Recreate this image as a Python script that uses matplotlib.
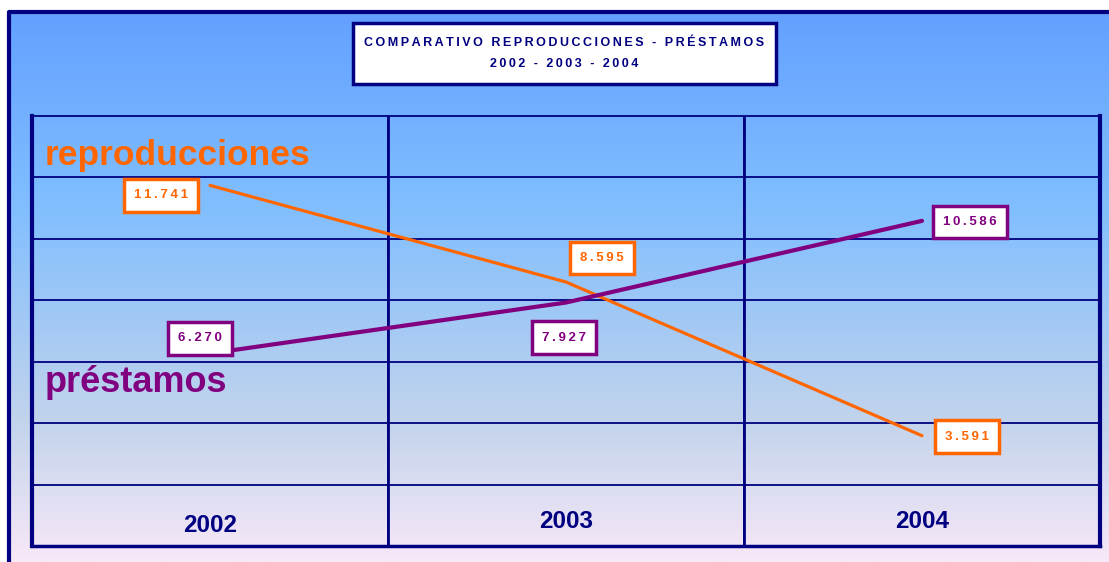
#!/usr/bin/env python3
# Comparativo reproducciones / préstamos 2002-2004
import numpy as np
import matplotlib
matplotlib.use("Agg")
import matplotlib.pyplot as plt
from matplotlib.patches import Rectangle

years = ["2002", "2003", "2004"]
reproducciones = [11741, 8595, 3591]
prestamos = [6270, 7927, 10586]
rep_labels = ["11.741", "8.595", "3.591"]
pre_labels = ["6.270", "7.927", "10.586"]

NAVY = "#000080"
ORANGE = "#FF6600"
PURPLE = "#800080"
FONT = ["Liberation Sans", "DejaVu Sans"]

W, H = 1109, 562
fig = plt.figure(figsize=(W / 100, H / 100), dpi=100)
fig.patch.set_facecolor("white")


def spaced(s):
    return "\u2009".join(s)


# background gradient panel (frame starts at x=8, y=10)
bg = fig.add_axes([8 / W, 0, 1 - 8 / W, 1 - 10 / H])
bg.set_axis_off()
stops_y = [0.0, 0.35, 0.55, 0.75, 1.0]
stops_c = np.array([[99, 160, 255], [128, 190, 255], [160, 200, 245],
                    [195, 212, 236], [248, 232, 248]]) / 255.0
yy = np.linspace(0, 1, 400)
grad = np.stack([np.interp(yy, stops_y, stops_c[:, i]) for i in range(3)], axis=1)
bg.imshow(grad[:, None, :], aspect="auto", extent=[0, 1, 0, 1], origin="upper")
bg.set_xlim(0, 1)
bg.set_ylim(0, 1)
bg.plot([0.001, 0.001, 1.0], [0.0, 0.997, 0.997], color=NAVY, lw=3,
        transform=bg.transAxes, clip_on=False)

# title box
tb = Rectangle((353 / W, 1 - 84 / H), (776 - 353) / W, (84 - 23) / H,
               transform=fig.transFigure, facecolor="white", edgecolor=NAVY,
               lw=2.5, zorder=5)
fig.patches.append(tb)
fig.text(564 / W, 1 - 43 / H, spaced("COMPARATIVO REPRODUCCIONES - PRÉSTAMOS"),
         ha="center", va="center", color=NAVY, fontsize=9, fontweight="bold",
         family=FONT, zorder=6)
fig.text(564 / W, 1 - 64 / H, spaced("2002 - 2003 - 2004"),
         ha="center", va="center", color=NAVY, fontsize=9, fontweight="bold",
         family=FONT, zorder=6)

# main chart
ax = fig.add_axes([32 / W, 16 / H, (1100 - 32) / W, (546 - 116) / H])
ax.patch.set_alpha(0)
x = np.arange(len(years)) + 0.5
ax.set_xlim(0, 3)
ax.set_ylim(0, 14000)
ax.set_yticks(np.arange(2000, 14000, 2000))
ax.set_xticks([1, 2])
ax.grid(True, color=NAVY, lw=1.3)
ax.tick_params(left=False, bottom=False, labelleft=False, labelbottom=False)
for side, lw in [("left", 3), ("right", 3), ("bottom", 2.5), ("top", 1.3)]:
    ax.spines[side].set_color(NAVY)
    ax.spines[side].set_linewidth(lw)
ax.axvline(1, color=NAVY, lw=2)
ax.axvline(2, color=NAVY, lw=2)

ax.plot(x, reproducciones, color=ORANGE, lw=2.3, solid_capstyle="round", zorder=3)
ax.plot(x, prestamos, color=PURPLE, lw=3, solid_capstyle="round", zorder=3)

# value boxes (offsets in pixels from the data point)
rep_off = [(-49, -10), (36, 24), (45, -1)]
pre_off = [(-10, 15), (-2, -35), (48, -1)]
for xi, v, lab, off in zip(x, reproducciones, rep_labels, rep_off):
    ax.annotate(spaced(lab), (xi, v), xytext=off, textcoords="offset pixels",
                ha="center", va="center", color=ORANGE, fontsize=9.5,
                fontweight="bold", family=FONT, zorder=5,
                bbox=dict(boxstyle="square,pad=0.78", fc="white", ec=ORANGE, lw=2.5))
for xi, v, lab, off in zip(x, prestamos, pre_labels, pre_off):
    ax.annotate(spaced(lab), (xi, v), xytext=off, textcoords="offset pixels",
                ha="center", va="center", color=PURPLE, fontsize=9.5,
                fontweight="bold", family=FONT, zorder=5,
                bbox=dict(boxstyle="square,pad=0.78", fc="white", ec=PURPLE, lw=2.5))

# series names
ax.text(13 / (1100 - 32), (546 - 155) / (546 - 116), "reproducciones",
        transform=ax.transAxes, ha="left", va="center", color=ORANGE,
        fontsize=25.5, fontweight="bold", family=FONT)
ax.text(13 / (1100 - 32), (546 - 382) / (546 - 116), "préstamos",
        transform=ax.transAxes, ha="left", va="center", color=PURPLE,
        fontsize=26, fontweight="bold", family=FONT)

# year labels in the bottom row
year_y = [525, 521, 521]
for xi, yr, py in zip(x, years, year_y):
    ax.text(xi, (546 - py) / (546 - 116), yr, transform=ax.get_xaxis_transform(),
            ha="center", va="center", color=NAVY, fontsize=17.5,
            fontweight="bold", family=FONT, zorder=4)

fig.savefig("out.png", dpi=100)
